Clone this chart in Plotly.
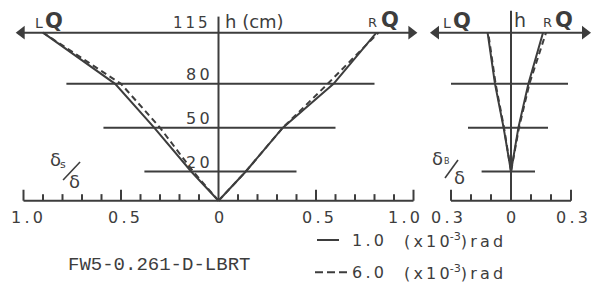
import numpy as np
import plotly.graph_objects as go

# ---------------- data ----------------
h_levels = [0, 20, 50, 80, 115]          # measuring heights (cm)

# main panel: delta_s / delta
main_LQ_1 = [0, 0.14, 0.33, 0.53, 0.90]
main_LQ_6 = [0, 0.13, 0.30, 0.50, 0.90]
main_RQ_1 = [0, 0.14, 0.33, 0.59, 0.81]
main_RQ_6 = [0, 0.14, 0.33, 0.56, 0.82]

# right panel: delta_B / delta
side_LQ_1 = [0, 0.0, 0.037, 0.080, 0.117]
side_LQ_6 = [0, 0.0, 0.035, 0.077, 0.114]
side_RQ_1 = [0, 0.0, 0.037, 0.087, 0.160]
side_RQ_6 = [0, 0.0, 0.040, 0.092, 0.175]

main_ticks = [round(v, 1) for v in np.arange(-1.0, 1.001, 0.1)]
main_major = [-1.0, -0.5, 0.5, 1.0]
side_ticks = [round(v, 1) for v in np.arange(-0.3, 0.301, 0.1)]
side_major = [-0.3, 0.3]

main_tick_text = ["1.0", "0.5", "0", "0.5", "1.0"]
main_tick_pos = [-0.98, -0.485, 0.0, 0.51, 0.95]
side_tick_text = ["0.3", "0", "0.3"]
side_tick_pos = [-0.32, 0.0, 0.305]

level_labels = ["20", "50", "80"]
level_label_h = [26.1, 56.1, 86.4]
# extent of the horizontal level lines (left, right)
main_level_ext = {20: (-0.38, 0.40), 50: (-0.59, 0.60), 80: (-0.78, 0.80)}
side_level_ext = {20: (-0.147, 0.12), 50: (-0.215, 0.185), 80: (-0.30, 0.285)}
# 115 cm arrow line extent
main_top_ext = (-1.04, 1.02)
side_top_ext = (-0.405, 0.40)

legend_values = ["1.0", "6.0"]
legend_unit = "(\u2009x\u20091\u20090<sup>-3</sup>)\u2009r\u2009a\u2009d"
specimen = "FW5-0.261-D-LBRT"

# ---------------- style ----------------
INK = "#3d3d3d"
LW = 2
SANS = "DejaVu Sans"
DASH = "6px,4px"


def sp(s, gap="\u2009"):
    return gap.join(list(s))


fig = go.Figure()

def curve(xs, ys, axis, dash):
    fig.add_trace(go.Scatter(
        x=xs, y=ys, xaxis=axis, yaxis="y", mode="lines",
        line=dict(color=INK, width=LW, dash=dash), showlegend=False,
        hoverinfo="skip"))

curve([-v for v in main_LQ_1], h_levels, "x", "solid")
curve([-v for v in main_LQ_6], h_levels, "x", DASH)
curve(main_RQ_1, h_levels, "x", "solid")
curve(main_RQ_6, h_levels, "x", DASH)
curve([-v for v in side_LQ_1], h_levels, "x2", "solid")
curve([-v for v in side_LQ_6], h_levels, "x2", DASH)
curve(side_RQ_1, h_levels, "x2", "solid")
curve(side_RQ_6, h_levels, "x2", DASH)

shapes = []
def seg(xref, x0, y0, x1, y1, w=LW):
    shapes.append(dict(type="line", xref=xref, yref="y", x0=x0, y0=y0,
                       x1=x1, y1=y1, line=dict(color=INK, width=w)))

# baselines
seg("x", -1.0, 0, 1.0, 0)
seg("x2", -0.3, 0, 0.3, 0)
# h axes
seg("x", 0, 0, 0, 126)
seg("x2", 0, 0, 0, 130)
# ticks
for t in main_ticks:
    if t == 0:
        continue
    seg("x", t, 0, t, 7.5 if t in main_major else 4.5)
for t in side_ticks:
    if t == 0:
        continue
    seg("x2", t, 0, t, 7.5 if t in side_major else 4.5)
# level lines
for lv, (a, b) in main_level_ext.items():
    seg("x", a, lv, b, lv)
for lv, (a, b) in side_level_ext.items():
    seg("x2", a, lv, b, lv)
# 115 lines
seg("x", main_top_ext[0] + 0.03, 115, main_top_ext[1] - 0.03, 115)
seg("x2", side_top_ext[0] + 0.03, 115, side_top_ext[1] - 0.03, 115)
# slashes of the axis-name fractions
seg("x", -0.797, 14.2, -0.710, 26.5, 1.6)
seg("x2", -0.33, 15.5, -0.265, 27.9, 1.6)

# arrowheads (triangles whose tips sit at the line ends)
def heads(axis, ext, half):
    fig.add_trace(go.Scatter(
        x=[ext[0] + half, ext[1] - half], y=[115, 115], xaxis=axis, yaxis="y",
        mode="markers", marker=dict(symbol=["triangle-left", "triangle-right"],
                                    size=12, color=INK),
        showlegend=False, hoverinfo="skip"))

heads("x", main_top_ext, 6 / 195)
heads("x2", side_top_ext, 6 / 200)

# legend samples (paper coords)
shapes.append(dict(type="line", xref="paper", yref="paper",
                   x0=317/592, x1=339/592, y0=1-240/287, y1=1-240/287,
                   line=dict(color=INK, width=LW)))
shapes.append(dict(type="line", xref="paper", yref="paper",
                   x0=315/592, x1=347/592, y0=1-272.3/287, y1=1-272.3/287,
                   line=dict(color=INK, width=LW, dash="8px,4px")))

ann = []
def txt(xref, x, y, s, size, xanchor="center", yanchor="middle", family=SANS, yref="y"):
    ann.append(dict(xref=xref, yref=yref, x=x, y=y, text=s, showarrow=False,
                    xanchor=xanchor, yanchor=yanchor,
                    font=dict(family=family, size=size, color=INK)))

# top labels main
txt("x", -0.045, 121.6, sp("115"), 15, xanchor="right")
txt("x", 0.023, 122.7, "h (cm)", 18, xanchor="left")
for lab, hh in zip(level_labels, level_label_h):
    txt("x", -0.033, hh, sp(lab), 16, xanchor="right")
txt("x", -0.922, 121.8, "L", 14)
txt("x", -0.843, 123.0, "<b>Q</b>", 21)
txt("x", 0.792, 122.3, "R", 13)
txt("x", 0.882, 123.5, "<b>Q</b>", 21)
# top labels side
txt("x2", -0.3225, 121.8, "L", 14)
txt("x2", -0.245, 123.3, "<b>Q</b>", 21)
txt("x2", 0.045, 124.0, "h", 19)
txt("x2", 0.1825, 122.3, "R", 13)
txt("x2", 0.265, 123.5, "<b>Q</b>", 21)

# tick labels
for s, p in zip(main_tick_text, main_tick_pos):
    txt("x", p, -11.2, sp(s), 16)
for s, p in zip(side_tick_text, side_tick_pos):
    txt("x2", p, -11.2, sp(s), 16)

# axis names
txt("x", -0.838, 27.9, "δ", 18)
txt("x", -0.797, 24.6, "s", 11)
txt("x", -0.741, 13.1, "δ", 18)
txt("x2", -0.3675, 28.9, "δ", 18)
txt("x2", -0.3225, 26.6, "B", 8)
txt("x2", -0.26, 15.9, "δ", 18)

# legend texts & specimen name
for val, py in zip(legend_values, [240.3, 272.5]):
    yp = 1 - py / 287
    txt("paper", 350/592, yp, sp(val), 16, xanchor="left", yref="paper")
    txt("paper", 402/592, yp, legend_unit, 16, xanchor="left", yref="paper")
txt("paper", 159/592, 1-264.5/287, specimen, 19, family="Liberation Mono", yref="paper")

x_split = 420/592
fig.update_layout(
    width=592, height=287,
    margin=dict(l=0, r=0, t=0, b=0),
    paper_bgcolor="white", plot_bgcolor="white",
    xaxis=dict(domain=[0, x_split], range=[(0-218.5)/195, (420-218.5)/195],
               visible=False, fixedrange=True),
    xaxis2=dict(domain=[x_split, 1], range=[(420-511)/200, (592-511)/200],
                visible=False, anchor="y", fixedrange=True),
    yaxis=dict(domain=[0, 1], range=[(200.7-287)/1.461, 200.7/1.461],
               visible=False, fixedrange=True),
    shapes=shapes, annotations=ann, showlegend=False,
)

fig.write_html(
    "out.html",
    config={"displayModeBar": False, "staticPlot": True},
    post_script="document.body.style.margin='0px';document.body.style.padding='0px';"
                "document.documentElement.style.overflow='hidden';",
)
